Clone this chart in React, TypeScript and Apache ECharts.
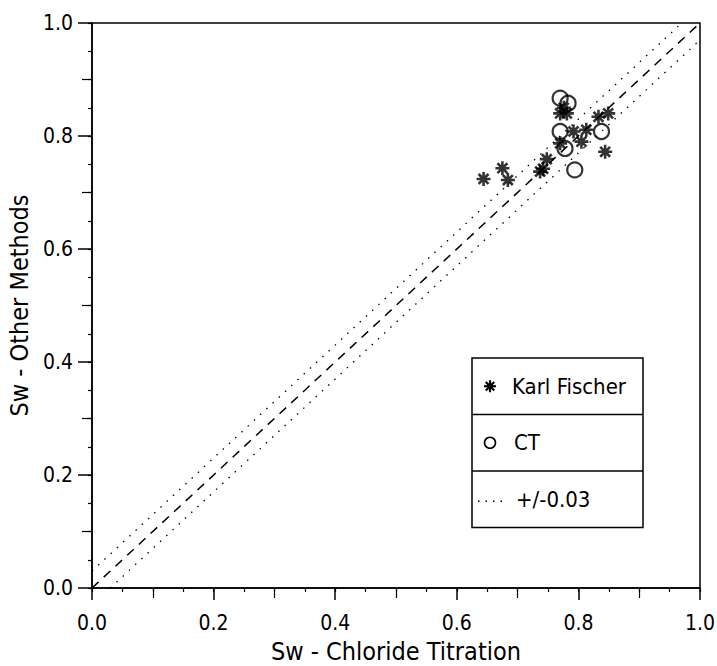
import React, { useEffect, useRef } from "react";
import * as echarts from "echarts";

// Karl Fischer (asterisks)
const kfX = [0.644, 0.675, 0.684, 0.737, 0.742, 0.748, 0.770, 0.770, 0.776, 0.781, 0.792, 0.805, 0.813, 0.833, 0.849, 0.844];
const kfY = [0.724, 0.743, 0.722, 0.737, 0.742, 0.759, 0.787, 0.840, 0.850, 0.840, 0.808, 0.790, 0.811, 0.834, 0.840, 0.772];
// CT (circles)
const ctX = [0.770, 0.783, 0.770, 0.778, 0.838, 0.794];
const ctY = [0.867, 0.858, 0.808, 0.778, 0.808, 0.740];
// reference lines
const oneToOne = [[0, 0], [1, 1]];
const band = 0.03;
const upperBand = [[0, band], [1 - band, 1]];
const lowerBand = [[band, 0], [1, 1 - band]];

const xTitle = "Sw - Chloride Titration";
const yTitle = "Sw - Other Methods";
const legendLabels = ["Karl Fischer", "CT", "+/-0.03"];

const FONT = "'Liberation Sans Narrow', 'DejaVu Sans Condensed', sans-serif";
const STAR = "path://M0,-10L0,10M-10,0L10,0M-7.07,-7.07L7.07,7.07M-7.07,7.07L7.07,-7.07";

function star(cx: number, cy: number, r: number) {
  const d = r * 0.707;
  const segs = [
    [cx - r, cy, cx + r, cy],
    [cx, cy - r, cx, cy + r],
    [cx - d, cy - d, cx + d, cy + d],
    [cx - d, cy + d, cx + d, cy - d],
  ];
  return segs.map((s) => ({
    type: "line",
    z: 12,
    shape: { x1: s[0], y1: s[1], x2: s[2], y2: s[3] },
    style: { stroke: "#000", lineWidth: 2.2 },
  }));
}

export default function App() {
  const ref = useRef<HTMLDivElement>(null);
  useEffect(() => {
    if (!ref.current) return;
    const chart = echarts.init(ref.current, null, { renderer: "svg" });
    const axisCommon = {
      type: "value",
      min: 0,
      max: 1,
      splitLine: { show: false },
    };
    const lx = 472, ly = 358, lw = 171, rowH = 56.5;
    chart.setOption({
      animation: false,
      backgroundColor: "#fff",
      grid: {
        left: 92, right: 17, top: 23, bottom: 78,
        outerBoundsMode: "none",
        containLabel: false,
        show: true, borderColor: "#000", borderWidth: 1.5, backgroundColor: "transparent",
      },
      xAxis: [
        {
          ...axisCommon,
          position: "bottom",
          interval: 0.2,
          axisLine: { show: true, onZero: false, lineStyle: { color: "#000", width: 1.5 } },
          axisTick: { show: true, length: 12, lineStyle: { color: "#000", width: 1.5 } },
          minorTick: { show: true, splitNumber: 2, length: 10, lineStyle: { color: "#000", width: 1.2 } },
          axisLabel: { color: "#000", fontSize: 21, fontFamily: FONT, margin: 24, formatter: (v: number) => v.toFixed(1) },
          name: xTitle,
          nameLocation: "middle",
          nameGap: 51,
          nameTextStyle: { color: "#000", fontSize: 25, fontFamily: FONT },
        },
        {
          ...axisCommon,
          position: "bottom",
          interval: 0.05,
          axisLine: { show: false, onZero: false },
          axisTick: { show: true, length: 4, lineStyle: { color: "#000", width: 1.2 } },
          axisLabel: { show: false },
        },
      ],
      yAxis: [
        {
          ...axisCommon,
          position: "left",
          interval: 0.2,
          axisLine: { show: true, onZero: false, lineStyle: { color: "#000", width: 1.5 } },
          axisTick: { show: true, length: 14, lineStyle: { color: "#000", width: 1.5 } },
          minorTick: { show: true, splitNumber: 2, length: 10, lineStyle: { color: "#000", width: 1.2 } },
          axisLabel: { color: "#000", fontSize: 21, fontFamily: FONT, margin: 19, formatter: (v: number) => v.toFixed(1) },
          name: yTitle,
          nameLocation: "middle",
          nameGap: 52,
          nameRotate: 90,
          nameTextStyle: { color: "#000", fontSize: 25, fontFamily: FONT },
        },
        {
          ...axisCommon,
          position: "left",
          interval: 0.05,
          axisLine: { show: false, onZero: false },
          axisTick: { show: true, length: 4, lineStyle: { color: "#000", width: 1.2 } },
          axisLabel: { show: false },
        },
      ],
      series: [
        {
          type: "line", data: oneToOne, symbol: "none", silent: true,
          lineStyle: { color: "#000", width: 1.5, type: [9, 7] },
        },
        {
          type: "line", data: upperBand, symbol: "none", silent: true,
          lineStyle: { color: "#000", width: 1.3, type: [1.5, 7] },
        },
        {
          type: "line", data: lowerBand, symbol: "none", silent: true,
          lineStyle: { color: "#000", width: 1.3, type: [1.5, 7] },
        },
        {
          name: legendLabels[0],
          type: "scatter",
          data: kfX.map((x, i) => [x, kfY[i]]),
          symbol: STAR,
          symbolSize: 14,
          itemStyle: { color: "#000", borderColor: "#000", borderWidth: 2.6 },
        },
        {
          name: legendLabels[1],
          type: "scatter",
          data: ctX.map((x, i) => [x, ctY[i]]),
          symbol: "circle",
          symbolSize: 15,
          itemStyle: { color: "rgba(255,255,255,0)", borderColor: "#000", borderWidth: 2.2 },
        },
      ],
      graphic: [
        {
          type: "rect",
          shape: { x: lx, y: ly, width: lw, height: rowH * 3 },
          style: { fill: "#fff", stroke: "#000", lineWidth: 1.5 },
          z: 10,
        },
        { type: "line", shape: { x1: lx, y1: ly + rowH, x2: lx + lw, y2: ly + rowH }, style: { stroke: "#000", lineWidth: 1.5 }, z: 11 },
        { type: "line", shape: { x1: lx, y1: ly + rowH * 2, x2: lx + lw, y2: ly + rowH * 2 }, style: { stroke: "#000", lineWidth: 1.5 }, z: 11 },
        ...star(490, ly + rowH * 0.5, 6),
        {
          type: "circle", z: 11,
          shape: { cx: 490, cy: ly + rowH * 1.5, r: 5.5 },
          style: { fill: "none", stroke: "#000", lineWidth: 1.6 },
        },
        {
          type: "line", z: 11,
          shape: { x1: 478, y1: ly + rowH * 2.5 + 2, x2: 502, y2: ly + rowH * 2.5 + 2 },
          style: { stroke: "#000", lineWidth: 1.3, lineDash: [1.5, 6] },
        },
        {
          type: "text", z: 11, x: 512, y: ly + rowH * 0.5,
          style: { text: legendLabels[0], fill: "#000", fontSize: 22, fontFamily: FONT, verticalAlign: "middle", align: "left" },
        },
        {
          type: "text", z: 11, x: 514, y: ly + rowH * 1.5,
          style: { text: legendLabels[1], fill: "#000", fontSize: 22, fontFamily: FONT, verticalAlign: "middle", align: "left" },
        },
        {
          type: "text", z: 11, x: 516, y: ly + rowH * 2.5,
          style: { text: legendLabels[2], fill: "#000", fontSize: 22, fontFamily: FONT, verticalAlign: "middle", align: "left" },
        },
      ],
    });
    return () => chart.dispose();
  }, []);
  return <div ref={ref} style={{ width: 717, height: 666, position: "absolute", left: 0, top: 0 }} />;
}
